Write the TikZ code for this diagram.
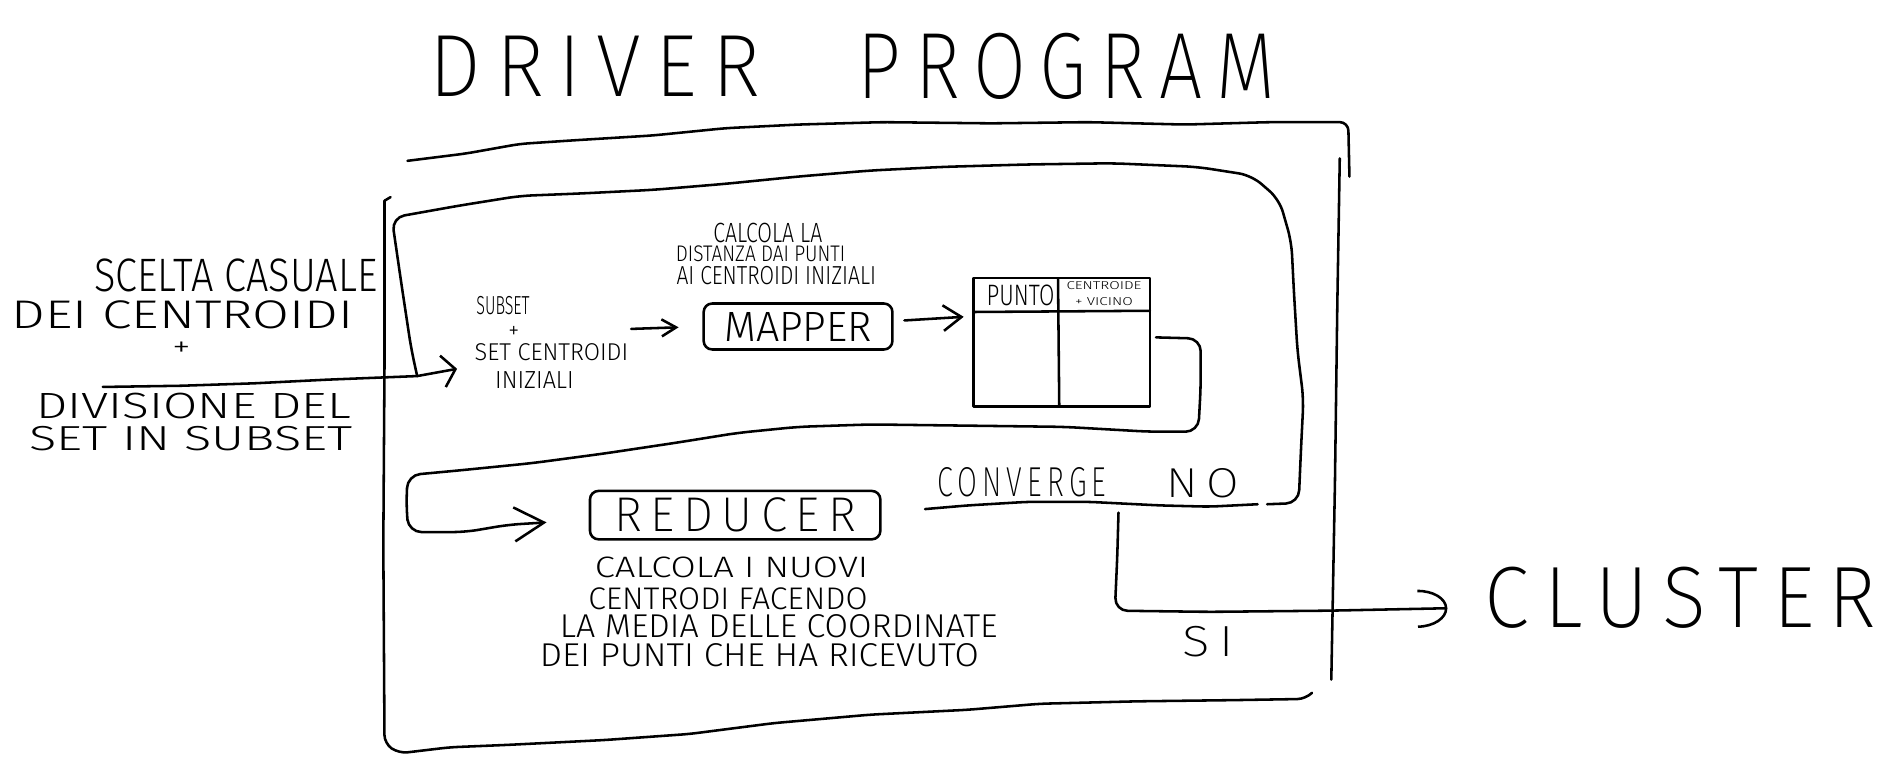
\documentclass[tikz,border=0pt]{standalone}
\usepackage{fontspec}
\usepackage{graphicx}
\setmainfont{Fira Sans}
\newfontfamily\handfont{Fira Sans Light}
\newfontfamily\handwide{Fira Sans ExtraLight}[LetterSpace=18]
\usetikzlibrary{arrows.meta}
% one drawing unit (px) = 0.01cm
\newlength\pxu \setlength\pxu{0.01cm}
% hand lettering stretched to a given width and cap height (in px)
\newcommand\hw[3]{\resizebox{#1\pxu}{#2\pxu}{\handfont #3}}
\newcommand\hwide[3]{\resizebox{#1\pxu}{#2\pxu}{\handwide #3}}

\begin{document}
\begin{tikzpicture}[x=0.01cm,y=-0.01cm,
  pen/.style={line width=0.6pt,line cap=round,line join=round},
  lbl/.style={inner sep=0pt,outer sep=0pt},
  box/.style={pen,draw,rounded corners=2pt,inner sep=0pt},
  tipIn/.style={-{Straight Barb[length=3pt,width=7.5pt]}},
  tipSm/.style={-{Straight Barb[length=3.4pt,width=4pt]}},
  tipMd/.style={-{Straight Barb[length=4.3pt,width=6pt]}},
  tipLg/.style={-{Straight Barb[length=7pt,width=8pt]}},
  tipArc/.style={-{Arc Barb[length=7pt,width=9pt]}}]
\useasboundingbox (0,0) rectangle (1568,635);
\fill[white] (0,0) rectangle (1568,635);

% title
\node[lbl] (titleA) at (492,55) {\hwide{273}{50}{DRIVER}};
\node[lbl] (titleB) at (882,55) {\hwide{345}{54}{PROGRAM}};

% driver program frame
\draw[pen,rounded corners=2pt] (337,133) -- (385,127) -- (430,119) -- (475,116) -- (540,112)
  -- (600,106) -- (660,103) -- (730,101) -- (820,102) -- (900,101) -- (980,103) -- (1050,101)
  -- (1115,101) -- (1116,146);
\draw[pen] (1108,131) -- (1106,250) -- (1104,400) -- (1101,562);
\draw[pen] (323,163) -- (318,166);
\draw[pen,rounded corners=2pt] (318,166) -- (318,300) -- (317,450) -- (318,615)
  -- (330,623) -- (372,618) -- (420,616) -- (500,612) -- (570,607) -- (640,598)
  -- (720,591) -- (800,587) -- (860,582) -- (940,580) -- (1020,579) -- (1080,578) -- (1085,573);

% input text
\node[lbl] (scelta) at (195,228) {\hw{234}{27}{SCELTA CASUALE}};
\node[lbl] (deicen) at (151,260) {\hw{283}{23}{DEI CENTROIDI}};
\node[lbl] (plusA) at (150,289) {\hw{15}{12}{+}};
\node[lbl] (divis) at (160,336) {\hw{260}{21}{DIVISIONE DEL}};
\node[lbl] (setsub) at (158,363) {\hw{267}{20}{SET IN SUBSET}};

% subset + initial centroids
\node[lbl] (subset) at (416,253) {\hw{44}{15}{SUBSET}};
\node[lbl] (plusB) at (425,275) {\hw{9}{10}{+}};
\node[lbl] (setcen) at (456,291) {\hw{127}{14}{SET CENTROIDI}};
\node[lbl] (iniz) at (442,314) {\hw{65}{14}{INIZIALI}};

% mapper
\node[lbl] (mcapA) at (635,193) {\hw{90}{16}{CALCOLA LA}};
\node[lbl] (mcapB) at (629,210) {\hw{140}{13}{DISTANZA DAI PUNTI}};
\node[lbl] (mcapC) at (642,228) {\hw{165}{15}{AI CENTROIDI INIZIALI}};
\node[box,minimum width=1.56cm,minimum height=0.38cm] (mapper) at (660,270) {\hw{122}{24}{MAPPER}};

% point / nearest centroid table
\node[pen,draw,lbl,minimum width=1.46cm,minimum height=1.06cm] (tbl) at (878,283) {};
\draw[pen] (806,258) -- (951,257);
\draw[pen] (875,231) -- (876,335);
\node[lbl] (punto) at (844,244) {\hw{56}{17}{PUNTO}};
\node[lbl] (centr) at (913,243)
  {\resizebox*{62\pxu}{20\pxu}{\handfont\shortstack{CENTROIDE\\[4pt]+ VICINO}}};

% reducer
\node[box,minimum width=2.4cm,minimum height=0.4cm] (reducer) at (608,426) {\hwide{200}{28}{REDUCER}};
\node[lbl] (rcapA) at (605,469) {\hw{226}{17}{CALCOLA I NUOVI}};
\node[lbl] (rcapB) at (602,495) {\hw{231}{18}{CENTRODI FACENDO}};
\node[lbl] (rcapC) at (644,518) {\hw{362}{19}{LA MEDIA DELLE COORDINATE}};
\node[lbl] (rcapD) at (628,542) {\hw{363}{19}{DEI PUNTI CHE HA RICEVUTO}};

% convergence test
\node[lbl] (conv) at (845,399) {\hwide{140}{24}{CONVERGE}};
\node[lbl] (no) at (995,400) {\hwide{60}{24}{NO}};
\node[lbl] (si) at (999,531) {\hwide{42}{25}{SI}};
\node[lbl] (cluster) at (1390,494) {\hwide{324}{50}{CLUSTER}};

% connector end points
\coordinate (inL) at (85,320);
\coordinate (jin) at (345,311);
\coordinate (setin) at (378,305);
\coordinate (s2m) at (522,272);
\coordinate (mout) at (748,265);
\coordinate (tin) at (797,262);
\coordinate (tout) at (956,279);
\coordinate (rin) at (452,432);
\coordinate (sitop) at (925,424);
\coordinate (clin) at (1197,503);

% input into the iteration
\draw[pen,tipIn] (inL) -- (150,319) -- (210,317) -- (270,314) -- (jin) -- (setin);
\draw[pen,tipSm] (s2m) -- (mapper.west) [shorten >=5.6pt];
\draw[pen,tipMd] (mout) -- (tin);

% iteration loop (NO branch back to the start)
\draw[pen,rounded corners=3pt] (jin) -- (340,288) -- (332,235) -- (324,180)
  -- (380,170) -- (430,162) -- (480,160) -- (540,157) -- (600,152) -- (660,146)
  -- (720,141) -- (780,138) -- (850,136) -- (920,135) -- (990,138) -- (1035,145) -- (1058,165)
  -- (1068,200) -- (1070,240) -- (1073,290) -- (1078,330)
  -- (1076,370) -- (1074,416) -- (1048,417);

% table to reducer
\draw[pen,tipLg,rounded corners=3pt] (tout) -- (993,280) -- (993,320) -- (991,357) -- (950,357)
  -- (880,353) -- (800,352) -- (720,351) -- (660,353) -- (610,358) -- (560,366) -- (500,375)
  -- (440,383) -- (380,389) -- (337,393) -- (336,420) -- (338,440)
  -- (385,440) -- (420,434) -- (rin);

% converge line
\draw[pen,rounded corners=2pt] (765,421) -- (800,418) -- (850,415) -- (900,415) -- (960,418)
  -- (1000,419) -- (1040,417);

% SI branch to the cluster
\draw[pen,tipArc,rounded corners=3pt] (sitop) -- (924,460) -- (922,505)
  -- (1000,506) -- (1100,505) -- (clin);
\end{tikzpicture}
\end{document}
